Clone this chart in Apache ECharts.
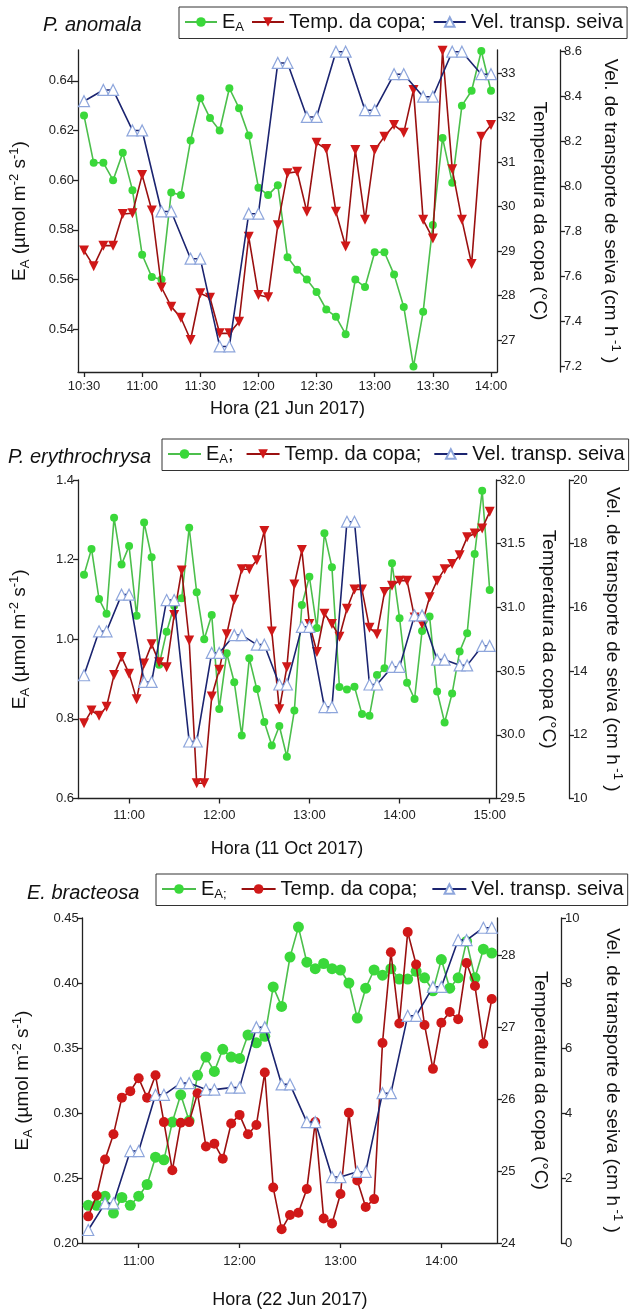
<!DOCTYPE html>
<html>
<head>
<meta charset="utf-8">
<script src="https://cdn.jsdelivr.net/npm/echarts@6/dist/echarts.min.js"></script>
<style>
  html, body { margin: 0; padding: 0; background: #fff; }
  #chart { width: 632px; height: 1314px; }
</style>
</head>
<body>
<div id="chart"></div>
<script>
// ---------- P. anomala (21 Jun 2017) ----------
const timesAnomala = ["10:30","10:35","10:40","10:45","10:50","10:55","11:00","11:05","11:10","11:15","11:20","11:25","11:30","11:35","11:40","11:45","11:50","11:55","12:00","12:05","12:10","12:15","12:20","12:25","12:30","12:35","12:40","12:45","12:50","12:55","13:00","13:05","13:10","13:15","13:20","13:25","13:30","13:35","13:40","13:45","13:50","13:55","14:00"];
const eaAnomala = [0.626,0.607,0.607,0.600,0.611,0.596,0.570,0.561,0.560,0.595,0.594,0.616,0.633,0.625,0.620,0.637,0.629,0.618,0.597,0.594,0.598,0.569,0.564,0.560,0.555,0.548,0.545,0.538,0.560,0.557,0.571,0.571,0.562,0.549,0.525,0.547,0.582,0.617,0.599,0.630,0.636,0.652,0.636];
const tempAnomala = [29.01,28.66,29.12,29.12,29.83,29.85,30.71,29.91,28.18,27.75,27.50,27.00,28.05,27.95,27.15,27.15,27.41,29.32,28.01,27.96,29.58,30.75,30.78,29.88,31.43,31.29,29.88,29.10,31.27,29.70,31.27,31.57,31.83,31.66,32.62,29.70,29.28,33.50,30.84,29.70,28.71,31.57,31.83];
const velAnomala = [8.38,null,8.43,8.43,null,8.25,8.25,null,7.89,7.89,null,7.68,7.68,null,7.29,7.29,null,7.88,7.88,null,8.55,8.55,null,8.31,8.31,null,8.60,8.60,null,8.34,8.34,null,8.50,8.50,null,8.40,8.40,null,8.60,8.60,null,8.50,8.50];
const ticksAnomala = ["10:30","11:00","11:30","12:00","12:30","13:00","13:30","14:00"];

// ---------- P. erythrochrysa (11 Oct 2017) ----------
const timesErythro = ["10:30","10:35","10:40","10:45","10:50","10:55","11:00","11:05","11:10","11:15","11:20","11:25","11:30","11:35","11:40","11:45","11:50","11:55","12:00","12:05","12:10","12:15","12:20","12:25","12:30","12:35","12:40","12:45","12:50","12:55","13:00","13:05","13:10","13:15","13:20","13:25","13:30","13:35","13:40","13:45","13:50","13:55","14:00","14:05","14:10","14:15","14:20","14:25","14:30","14:35","14:40","14:45","14:50","14:55","15:00"];
const eaErythro = [1.162,1.227,1.101,1.064,1.305,1.188,1.234,1.059,1.293,1.206,0.936,1.019,1.084,1.103,1.280,1.118,1.000,1.061,0.825,0.965,0.892,0.758,0.952,0.875,0.792,0.733,0.782,0.705,0.821,1.086,1.157,1.028,1.266,1.181,0.880,0.874,0.881,0.812,0.808,0.910,0.927,1.191,1.053,0.891,0.850,1.021,1.057,0.869,0.791,0.864,0.969,1.015,1.214,1.373,1.124];
const tempErythro = [30.09,30.19,30.15,30.22,30.47,30.61,30.48,30.28,30.56,30.71,30.57,30.53,30.94,31.29,30.74,29.62,29.62,30.30,30.51,30.79,31.06,31.30,31.30,31.37,31.60,30.81,30.20,30.53,31.18,31.45,30.87,30.65,30.95,30.87,30.77,30.99,31.14,31.14,30.84,30.79,31.12,31.17,31.21,31.21,30.92,30.87,31.08,31.21,31.30,31.34,31.41,31.55,31.58,31.62,31.75];
const velErythro = [13.87,null,15.25,15.25,null,16.40,16.40,null,13.66,13.66,null,16.23,16.23,null,11.79,11.79,null,14.57,14.57,null,15.13,15.13,null,14.83,14.83,null,13.58,13.58,null,15.39,15.39,null,12.87,12.87,null,18.69,18.69,null,13.58,13.58,null,14.13,14.13,null,15.75,15.75,null,14.36,14.36,null,14.18,14.18,null,14.79,14.79];
const ticksErythro = ["11:00","12:00","13:00","14:00","15:00"];

// ---------- E. bracteosa (22 Jun 2017) ----------
const timesBract = ["10:30","10:35","10:40","10:45","10:50","10:55","11:00","11:05","11:10","11:15","11:20","11:25","11:30","11:35","11:40","11:45","11:50","11:55","12:00","12:05","12:10","12:15","12:20","12:25","12:30","12:35","12:40","12:45","12:50","12:55","13:00","13:05","13:10","13:15","13:20","13:25","13:30","13:35","13:40","13:45","13:50","13:55","14:00","14:05","14:10","14:15","14:20","14:25","14:30"];
const eaBract = [0.229,0.229,0.236,0.223,0.235,0.229,0.236,0.245,0.266,0.264,0.293,0.314,0.294,0.329,0.343,0.332,0.349,0.343,0.342,0.360,0.354,0.359,0.397,0.382,0.420,0.443,0.416,0.411,0.415,0.411,0.410,0.400,0.373,0.396,0.410,0.406,0.411,0.403,0.403,0.409,0.404,0.394,0.418,0.396,0.404,0.432,0.404,0.426,0.423];
const tempBract = [24.37,24.66,25.16,25.51,26.02,26.11,26.29,26.02,26.33,25.68,25.01,25.67,25.68,26.08,25.34,25.38,25.17,25.66,25.78,25.51,25.64,26.37,24.77,24.19,24.39,24.42,24.75,25.68,24.34,24.27,24.68,25.81,24.87,24.50,24.61,26.78,28.04,27.05,28.32,27.87,27.03,26.42,27.06,27.21,27.11,27.89,27.57,26.77,27.39];
const velBract = [0.40,null,1.22,1.22,null,2.83,2.83,null,4.56,4.56,null,4.92,4.92,null,4.72,4.72,null,4.78,4.78,null,6.64,6.64,null,4.88,4.88,null,3.72,3.72,null,2.03,2.03,null,2.19,2.19,null,4.61,4.61,null,6.99,6.99,null,7.88,7.88,null,9.32,9.32,null,9.70,9.70];
const ticksBract = ["11:00","12:00","13:00","14:00"];

// ---------- helpers ----------
const FONT = "'Liberation Sans', Arial, sans-serif";
const toMin = t => { const p = t.split(':'); return +p[0] * 60 + +p[1]; };
const fmtTime = v => { const h = Math.floor(v / 60), m = Math.round(v - h * 60); return h + ':' + (m < 10 ? '0' : '') + m; };
const pairs = (times, vals) => times.map((t, i) => vals[i] == null ? null : [toMin(t), vals[i]]).filter(Boolean);
const range = (a, b, step) => { const out = []; for (let v = a; v <= b + 1e-9; v += step) out.push(+v.toFixed(4)); return out; };

const AXIS_COLOR = '#222';
const GREEN = '#3ad83a', GREEN_LINE = '#4cbf4c';
const RED = '#d01818', RED_LINE = '#9a1010';
const NAVY = '#1b2470', LIGHT_BLUE = '#8ea6dc';
const TITLE_SIZE = 19, TICK_SIZE = 13;

const rich = {
  n: { fontSize: TITLE_SIZE, fontFamily: FONT, color: '#111', lineHeight: 24 },
  s: { fontSize: 13, fontFamily: FONT, color: '#111', lineHeight: 13, verticalAlign: 'bottom' },
  p: { fontSize: 13, fontFamily: FONT, color: '#111', lineHeight: 13, verticalAlign: 'top' }
};
const legendRich = {
  n: { fontSize: 20, fontFamily: FONT, color: '#111', lineHeight: 23 },
  s: { fontSize: 13, fontFamily: FONT, color: '#111', lineHeight: 13, verticalAlign: 'bottom' }
};

function yAxisBase(gridIndex, min, max, labels, decimals, position, offset, name, nameGap) {
  return {
    type: 'value', gridIndex, position, offset, min, max,
    splitLine: { show: false },
    axisLine: { show: true, onZero: false, lineStyle: { color: AXIS_COLOR, width: 1.3 } },
    axisTick: { show: true, length: 5, customValues: labels, lineStyle: { color: AXIS_COLOR, width: 1.3 } },
    axisLabel: { customValues: labels, color: '#222', fontSize: TICK_SIZE, fontFamily: FONT, margin: 4,
                 formatter: v => v.toFixed(decimals) },
    name, nameLocation: 'middle', nameGap,
    nameRotate: position === 'right' ? -90 : 90,
    nameTextStyle: { rich, fontSize: TITLE_SIZE, fontFamily: FONT, color: '#111' }
  };
}

function xAxisBase(gridIndex, min, max, ticks, name, nameGap, labelMargin) {
  const vals = ticks.map(toMin);
  return {
    type: 'value', gridIndex, min, max,
    splitLine: { show: false },
    axisLine: { show: true, onZero: false, lineStyle: { color: AXIS_COLOR, width: 1.3 } },
    axisTick: { show: true, length: 5, customValues: vals, lineStyle: { color: AXIS_COLOR, width: 1.3 } },
    axisLabel: { customValues: vals, color: '#222', fontSize: TICK_SIZE, fontFamily: FONT, margin: labelMargin, formatter: fmtTime },
    name, nameLocation: 'middle', nameGap,
    nameTextStyle: { fontSize: 18, fontFamily: FONT, color: '#111' }
  };
}

const EA_NAME = '{n|E}{s|A}{n| (µmol m}{p|-2}{n| s}{p|-1}{n|)}';
const TEMP_NAME = 'Temperatura da copa (°C)';
const VEL_NAME = '{n|Vel. de transporte de seiva (cm h}{p| -1}{n| )}';

function eaSeries(name, x, y, times, vals, size) {
  return { name, type: 'line', xAxisIndex: x, yAxisIndex: y, data: pairs(times, vals),
    symbol: 'circle', symbolSize: size, z: 3,
    lineStyle: { color: GREEN_LINE, width: 1.6 }, itemStyle: { color: GREEN } };
}
function tempSeries(name, x, y, times, vals, circle) {
  return { name, type: 'line', xAxisIndex: x, yAxisIndex: y, data: pairs(times, vals),
    symbol: circle ? 'circle' : 'triangle', symbolRotate: circle ? 0 : 180, symbolSize: 10, z: 4,
    lineStyle: { color: RED_LINE, width: 1.6 }, itemStyle: { color: RED } };
}
function velSeries(name, x, y, times, vals) {
  return { name, type: 'line', xAxisIndex: x, yAxisIndex: y, data: pairs(times, vals), connectNulls: true,
    symbol: 'triangle', symbolSize: 11, z: 5,
    lineStyle: { color: NAVY, width: 1.6 }, itemStyle: { color: '#fff', borderColor: LIGHT_BLUE, borderWidth: 1.2 } };
}

const legendLabels = {
  ea1: '{n|E}{s|A}', t1: '{n|Temp. da copa;}', v1: '{n|Vel. transp. seiva}',
  ea2: '{n|E}{s|A}{n|;}', t2: '{n|Temp. da copa;}', v2: '{n|Vel. transp. seiva}',
  ea3: '{n|E}{s|A;}', t3: '{n|Temp. da copa;}', v3: '{n|Vel. transp. seiva}'
};
function legendBox(left, top, names, iconW, gap) {
  return {
    left, top, orient: 'horizontal', data: names,
    borderColor: '#333', borderWidth: 1, padding: [5, 4, 5, 5], itemGap: gap,
    itemWidth: iconW, itemHeight: 12, selectedMode: false,
    formatter: n => legendLabels[n],
    textStyle: { rich: legendRich, fontSize: 20, fontFamily: FONT, color: '#111' }
  };
}

const speciesStyle = { fontStyle: 'italic', fontWeight: 'normal', fontSize: 20, fontFamily: FONT, color: '#111' };

const option = {
  animation: false,
  backgroundColor: '#fff',
  title: [
    { text: 'P. anomala', left: 38, top: 10, textStyle: speciesStyle },
    { text: 'P. erythrochrysa', left: 3, top: 442, textStyle: speciesStyle },
    { text: 'E. bracteosa', left: 22, top: 878, textStyle: speciesStyle }
  ],
  legend: [
    legendBox(179, 7, ['ea1', 't1', 'v1'], 32, 7),
    legendBox(162, 439, ['ea2', 't2', 'v2'], 33, 12),
    legendBox(156, 874, ['ea3', 't3', 'v3'], 34, 14)
  ],
  grid: [
    { left: 78, top: 50, width: 419, height: 322 },
    { left: 78, top: 480, width: 419, height: 318.5 },
    { left: 82.7, top: 918, width: 418.3, height: 325 }
  ],
  xAxis: [
    xAxisBase(0, 626.9, 843.1, ticksAnomala, 'Hora (21 Jun 2017)', 28, 8),
    xAxisBase(1, 626.0, 904.2, ticksErythro, 'Hora (11 Oct 2017)', 42, 10),
    xAxisBase(2, 626.7, 873.1, ticksBract, 'Hora (22 Jun 2017)', 48, 12)
  ],
  yAxis: [
    yAxisBase(0, 0.5228, 0.6524, range(0.54, 0.64, 0.02), 2, 'left', 0, EA_NAME, 46),
    yAxisBase(0, 26.281, 33.517, range(27, 33, 1), 0, 'right', 0, TEMP_NAME, 33),
    yAxisBase(0, 7.1764, 8.6076, range(7.2, 8.6, 0.2), 1, 'right', 63, VEL_NAME, 38),
    yAxisBase(1, 0.6, 1.4, range(0.6, 1.4, 0.2), 1, 'left', 0, EA_NAME, 46),
    yAxisBase(1, 29.5, 32.0, range(29.5, 32.0, 0.5), 1, 'right', 0, TEMP_NAME, 43),
    yAxisBase(1, 10, 20, range(10, 20, 2), 0, 'right', 73, VEL_NAME, 31),
    yAxisBase(2, 0.20, 0.45, range(0.20, 0.45, 0.05), 2, 'left', 0, EA_NAME, 48),
    yAxisBase(2, 24, 28.516, range(24, 28, 1), 0, 'right', 0, TEMP_NAME, 34),
    yAxisBase(2, 0, 10, range(0, 10, 2), 0, 'right', 64, VEL_NAME, 39)
  ],
  series: [
    eaSeries('ea1', 0, 0, timesAnomala, eaAnomala, 8),
    tempSeries('t1', 0, 1, timesAnomala, tempAnomala, false),
    velSeries('v1', 0, 2, timesAnomala, velAnomala),
    eaSeries('ea2', 1, 3, timesErythro, eaErythro, 8),
    tempSeries('t2', 1, 4, timesErythro, tempErythro, false),
    velSeries('v2', 1, 5, timesErythro, velErythro),
    eaSeries('ea3', 2, 6, timesBract, eaBract, 11),
    tempSeries('t3', 2, 7, timesBract, tempBract, true),
    velSeries('v3', 2, 8, timesBract, velBract)
  ]
};

const chart = echarts.init(document.getElementById('chart'), null, { renderer: 'canvas' });
chart.setOption(option);
</script>
</body>
</html>
